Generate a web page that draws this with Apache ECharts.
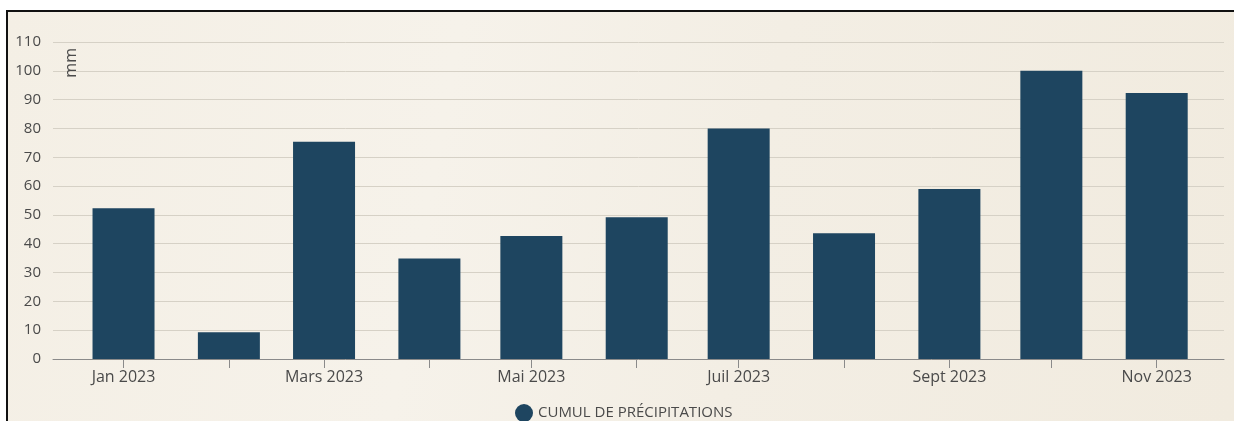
<!DOCTYPE html>
<html>
<head>
<meta charset="utf-8">
<script src="https://cdn.jsdelivr.net/npm/echarts@6/dist/echarts.min.js"></script>
<style>
  body { margin: 0; background: #fff; }
  #frame {
    position: absolute; left: 6px; top: 10px; right: 0; bottom: 0;
    border-top: 2px solid #111; border-left: 2px solid #111;
    background: linear-gradient(100deg, #f4efe5 0%, #f6f2ea 35%, #f3eee4 60%, #f1ebdf 100%);
  }
  #chart { position: absolute; left: 0; top: 0; width: 1234px; height: 421px; }
</style>
</head>
<body>
<div id="frame"></div>
<div id="chart"></div>
<script>
// mois (1er du mois) et cumul de précipitations en mm
const months = [
  [2023, 0], [2023, 1], [2023, 2], [2023, 3], [2023, 4], [2023, 5],
  [2023, 6], [2023, 7], [2023, 8], [2023, 9], [2023, 10]
]
const rainfall = [52.3, 9.3, 75.4, 34.9, 42.7, 49.2, 80.0, 43.6, 59.0, 100.0, 92.3]
const monthNames = ['Jan', 'Févr', 'Mars', 'Avr', 'Mai', 'Juin', 'Juil', 'Août', 'Sept', 'Oct', 'Nov', 'Déc']
const seriesName = 'CUMUL DE PRÉCIPITATIONS'

const DAY = 86400000
const seriesData = months.map((m, i) => [Date.UTC(m[0], m[1], 1), rainfall[i]])

// echarts élargit l'axe temps pour les barres (barWidth/2 de chaque côté),
// donc on resserre min/max pour retomber sur ~20 jours de marge
const chart = echarts.init(document.getElementById('chart'))
chart.setOption({
  useUTC: true,
  animation: false,
  textStyle: { fontFamily: 'Open Sans' },
  grid: { left: 53, right: 10, top: 42, bottom: 62 },
  legend: {
    data: [{ name: seriesName, icon: 'circle' }],
    left: 510,
    top: 399,
    itemWidth: 18,
    itemHeight: 18,
    itemGap: 20,
    textStyle: { color: '#4a4a4a', fontSize: 15, fontFamily: 'Open Sans' }
  },
  xAxis: {
    type: 'time',
    min: Date.UTC(2023, 0, 1) - 11.63 * DAY,
    max: Date.UTC(2023, 10, 1) + 10.68 * DAY,
    splitNumber: 12,
    axisLine: { lineStyle: { color: '#8a8a8a', width: 1 } },
    axisTick: { show: true, length: 9, lineStyle: { color: '#8a8a8a' } },
    splitLine: { show: false },
    axisLabel: {
      color: '#4a4a4a',
      fontSize: 16,
      margin: 10,
      hideOverlap: false,
      showMinLabel: false,
      showMaxLabel: false,
      formatter: function (value) {
        const d = new Date(value)
        const m = d.getUTCMonth()
        if (d.getUTCDate() !== 1 || m % 2 !== 0) return ''
        return monthNames[m] + ' ' + d.getUTCFullYear()
      }
    }
  },
  yAxis: {
    type: 'value',
    min: 0,
    max: 110,
    interval: 10,
    name: 'mm',
    nameLocation: 'end',
    nameRotate: 90,
    nameGap: -6,
    nameTextStyle: {
      color: '#4a4a4a',
      fontSize: 16,
      align: 'right',
      verticalAlign: 'top',
      padding: [10, 0, 0, 0]
    },
    axisLine: { show: false },
    axisTick: { show: false },
    axisLabel: { color: '#4a4a4a', fontSize: 15, margin: 12 },
    splitLine: { lineStyle: { color: '#d6d1c6', width: 1 } }
  },
  series: [{
    name: seriesName,
    type: 'bar',
    barWidth: 62,
    itemStyle: { color: '#1e4560' },
    data: seriesData
  }]
})
</script>
</body>
</html>
